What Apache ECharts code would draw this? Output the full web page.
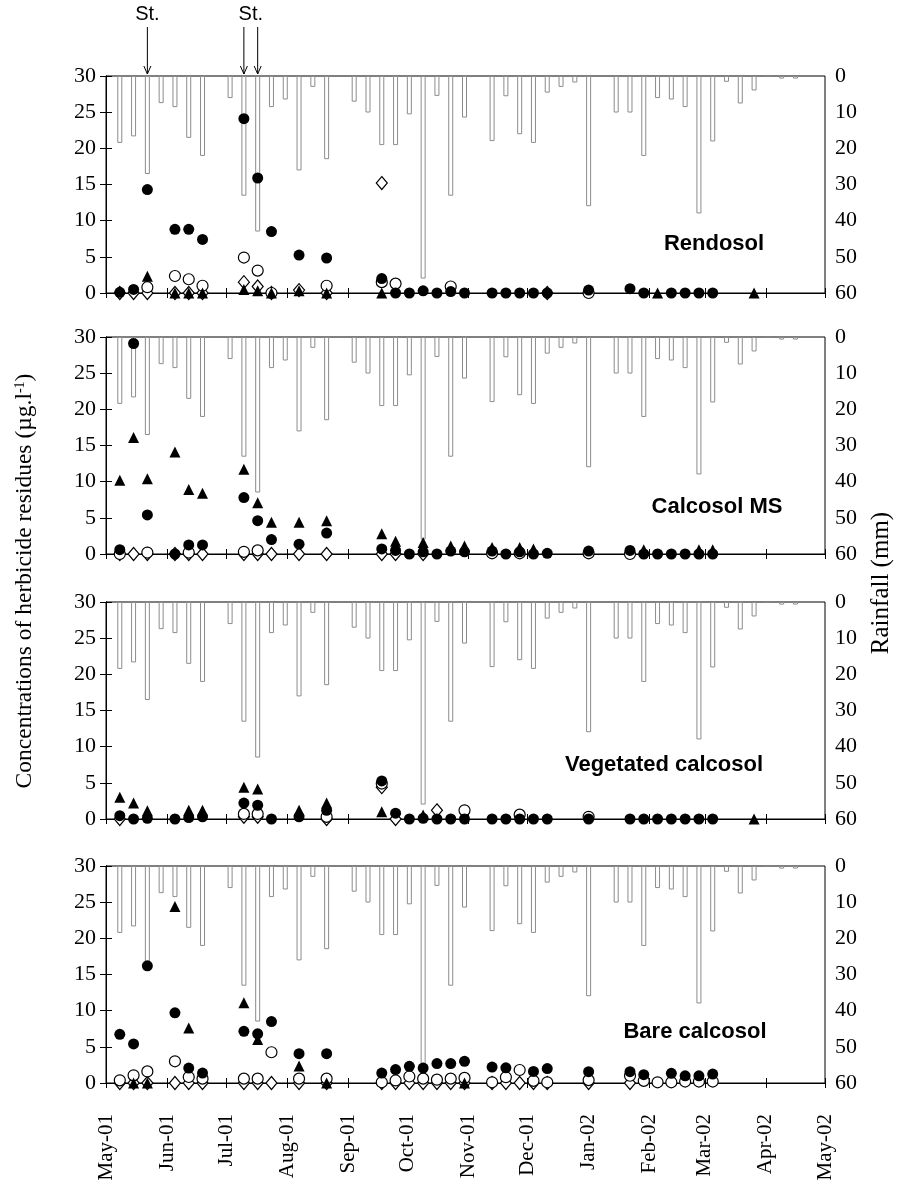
<!DOCTYPE html>
<html><head><meta charset="utf-8">
<script src="https://cdn.jsdelivr.net/npm/echarts@6/dist/echarts.min.js"></script>
<style>html,body{margin:0;padding:0;background:#fff}#c{width:905px;height:1184px}</style>
</head><body><div id="c"></div>
<script>
// ---------- DATA ----------
const monthTicks = ['2001-05-01','2001-06-01','2001-07-01','2001-08-01','2001-09-01','2001-10-01','2001-11-01','2001-12-01','2002-01-01','2002-02-01','2002-03-01','2002-04-01','2002-05-01'];
const monthLabels = ['May-01','Jun-01','Jul-01','Aug-01','Sep-01','Oct-01','Nov-01','Dec-01','Jan-02','Feb-02','Mar-02','Apr-02','May-02'];

// weekly rainfall (mm)
const rainDates = ['2001-05-08','2001-05-15','2001-05-22','2001-05-29','2001-06-05','2001-06-12','2001-06-19','2001-06-26','2001-07-03','2001-07-10','2001-07-17','2001-07-24','2001-07-31','2001-08-07','2001-08-14','2001-08-21','2001-08-28','2001-09-04','2001-09-11','2001-09-18','2001-09-25','2001-10-02','2001-10-09','2001-10-16','2001-10-23','2001-10-30','2001-11-06','2001-11-13','2001-11-20','2001-11-27','2001-12-04','2001-12-11','2001-12-18','2001-12-25','2002-01-01','2002-01-08','2002-01-15','2002-01-22','2002-01-29','2002-02-05','2002-02-12','2002-02-19','2002-02-26','2002-03-05','2002-03-12','2002-03-19','2002-03-26','2002-04-02','2002-04-09','2002-04-16'];
const rainfall = [18.5,16.7,27.1,7.5,8.6,17.1,22.1,null,6.1,33.1,43.0,8.6,6.5,26.1,3.0,23.0,null,7.1,10.1,19.1,19.1,10.6,56.0,5.5,33.1,11.5,null,18.0,5.6,16.1,18.5,4.6,3.0,1.8,36.0,null,10.1,10.1,22.1,6.1,6.5,8.6,38.0,18.1,1.6,7.6,4.0,0.3,0.7,0.7];

// sampling dates
const sampleDates = ['2001-05-08','2001-05-15','2001-05-22','2001-06-05','2001-06-12','2001-06-19','2001-07-10','2001-07-17','2001-07-24','2001-08-07','2001-08-21','2001-09-18','2001-09-25','2001-10-02','2001-10-09','2001-10-16','2001-10-23','2001-10-30','2001-11-13','2001-11-20','2001-11-27','2001-12-04','2001-12-11','2002-01-01','2002-01-22','2002-01-29','2002-02-05','2002-02-12','2002-02-19','2002-02-26','2002-03-05','2002-03-26'];

// Rendosol
const rendosolFilled   = [0.1,0.5,14.3,8.8,8.8,7.4,24.1,15.9,8.5,5.25,4.84,2.0,0,0,0.3,0,0.2,0,0,0,0,0,0,0.4,0.6,0,null,0,0,0,0,null];
const rendosolOpen     = [null,null,0.8,2.35,1.9,1.0,4.9,3.1,0,null,1.0,1.5,1.3,null,null,null,0.9,null,null,null,null,null,null,0,null,null,null,null,null,null,null,null];
const rendosolDiamond  = [0,0,0,0,0,0,1.5,0.9,0,0.4,0,15.2,null,null,null,null,null,null,null,null,null,null,0,null,null,null,null,null,null,null,null,null];
const rendosolTriangle = [null,null,2.3,0,0,0,0.5,0.3,0,0.3,0,0,null,null,null,null,null,null,null,null,null,null,null,null,null,null,0,null,null,null,null,0];
// Calcosol MS
const calcosolFilled   = [0.6,29.1,5.4,0,1.25,1.25,7.8,4.6,2.0,1.35,2.9,0.7,0.5,0,0.3,0,0.4,0.3,0.4,0,0.3,0,0.1,0.4,0.5,0,0,0,0,0,0,null];
const calcosolOpen     = [0,null,0.2,null,0.2,null,0.3,0.5,null,null,null,null,null,null,null,null,null,null,0.1,null,0.1,null,null,0.1,0,null,null,null,null,null,null,null];
const calcosolDiamond  = [0,0,0,0,0,0,0,0,0,0,0,0,0,null,0,null,null,null,null,null,null,null,null,null,null,null,null,null,null,null,null,null];
const calcosolTriangle = [10.2,16.1,10.4,14.1,8.9,8.4,11.7,7.1,4.4,4.4,4.6,2.8,1.75,null,1.6,null,1.1,1.1,0.9,null,0.9,0.7,null,null,null,0.6,null,null,null,0.6,0.6,null];
// Vegetated calcosol
const vegetatedFilled   = [0.46,0,0.1,0,0.2,0.3,2.2,1.9,0,0.3,1.2,5.26,0.8,0,0.1,0,0,0,0,0,0,0,0,0,0,0,0,0,0,0,0,null];
const vegetatedOpen     = [null,null,null,null,null,null,0.7,0.7,null,null,0.3,4.9,null,null,null,null,null,1.2,null,null,0.6,null,null,0.3,null,null,null,null,null,null,null,null];
const vegetatedDiamond  = [0,null,null,null,null,null,0.3,0.3,null,null,0,4.4,0,null,null,1.2,null,null,null,null,null,null,null,null,null,null,null,null,null,null,null,null];
const vegetatedTriangle = [3.0,2.2,1.15,null,1.2,1.2,4.4,4.15,null,1.2,2.2,1.0,null,null,0.55,null,null,null,null,null,null,null,null,null,null,null,null,null,null,null,null,0];
// Bare calcosol
const bareFilled   = [6.73,5.4,16.2,9.7,2.07,1.38,7.15,6.8,8.5,4.06,4.06,1.38,1.85,2.3,2.07,2.68,2.68,3.0,2.2,2.1,null,1.6,2.0,1.56,1.56,1.15,null,1.34,1.0,1.0,1.24,null];
const bareOpen     = [0.37,1.06,1.6,3.0,0.83,0.6,0.6,0.6,4.25,0.6,0.6,0.1,0.35,0.9,0.6,0.46,0.6,0.7,0.1,0.8,1.8,0.3,0.1,0.4,1.0,0.3,0.1,0.1,0.2,0.2,0.2,null];
const bareDiamond  = [0,0,0,0,0,0,0,0,0,0,0,0,0,0,0,0,0,0,0,0,0,0,0,0,0,null,null,null,null,null,null,null];
const bareTriangle = [null,0,0,24.4,7.6,null,11.1,6.0,null,2.35,0,null,null,null,null,null,null,0,null,null,null,null,null,null,null,null,null,null,null,null,null,null];

const panelNames = ['Rendosol','Calcosol MS','Vegetated calcosol','Bare calcosol'];
const treatmentDates = [['2001-05-22'], ['2001-07-10','2001-07-17']];
const treatmentLabel = 'St.';
const leftTitle = 'Concentrations of herbicide residues (µg.l{sup|-1})';
const rightTitle = 'Rainfall (mm)';

// ---------- BUILD ----------
const origin = Date.UTC(2001,4,1);
function dayNum(s){ const p = s.split('-').map(Number); return (Date.UTC(p[0],p[1]-1,p[2]) - origin)/86400000; }
const monthDays = monthTicks.map(dayNum);
const xMax = dayNum('2002-05-01');

const panels = [
  {filled: rendosolFilled, open: rendosolOpen, diamond: rendosolDiamond, tri: rendosolTriangle},
  {filled: calcosolFilled, open: calcosolOpen, diamond: calcosolDiamond, tri: calcosolTriangle},
  {filled: vegetatedFilled, open: vegetatedOpen, diamond: vegetatedDiamond, tri: vegetatedTriangle},
  {filled: bareFilled, open: bareOpen, diamond: bareDiamond, tri: bareTriangle}
];

const gridTops = [76, 337, 602, 866];
const gridH = 217;
const serif = 'Liberation Serif, Times New Roman, serif';
const sans = 'Liberation Sans, Arial, sans-serif';
const labelCenters = [[714,244],[717,507],[664,765],[695,1032]];

const grids = [], xAxes = [], yAxes = [], series = [];
function pts(vals){ const out=[]; vals.forEach((v,j)=>{ if(v!==null && v!==undefined) out.push([dayNum(sampleDates[j]), v]); }); return out; }

gridTops.forEach((t,i)=>{
  grids.push({left:106, right:80, top:t, height:gridH, show:true, borderColor:'#000', borderWidth:1, backgroundColor:'transparent'});
  xAxes.push({
    type:'value', gridIndex:i, min:0, max:xMax, position:'bottom',
    axisLine:{show:true, onZero:false, lineStyle:{color:'#000', width:1}},
    axisTick:{show:true, customValues:monthDays, length:5, inside:false, lineStyle:{color:'#000'}},
    axisLabel:{show:i===3, customValues:monthDays, rotate:90, margin:31, fontFamily:serif, fontSize:21, color:'#000',
      formatter:(v)=>{ const k = monthDays.indexOf(v); return k>=0 ? monthLabels[k] : ''; }},
    splitLine:{show:false}
  });
});
gridTops.forEach((t,i)=>{
  xAxes.push({
    type:'value', gridIndex:i, min:0, max:xMax, position:'bottom',
    axisLine:{show:false, onZero:false},
    axisTick:{show:true, customValues:monthDays, length:5, inside:true, lineStyle:{color:'#000'}},
    axisLabel:{show:false}, splitLine:{show:false}
  });
});
gridTops.forEach((t,i)=>{
  yAxes.push({type:'value', gridIndex:i, min:0, max:30, interval:5, position:'left',
    axisLine:{show:true, lineStyle:{color:'#000'}}, axisTick:{show:true, length:6, lineStyle:{color:'#000'}},
    axisLabel:{fontFamily:serif, fontSize:22, color:'#000', margin:10}, splitLine:{show:false}});
  yAxes.push({type:'value', gridIndex:i, min:0, max:60, interval:10, position:'right', inverse:true,
    axisLine:{show:true, lineStyle:{color:'#000'}}, axisTick:{show:true, length:6, lineStyle:{color:'#000'}},
    axisLabel:{fontFamily:serif, fontSize:22, color:'#000', margin:10}, splitLine:{show:false}});
});

panels.forEach((p,i)=>{
  series.push({type:'bar', xAxisIndex:i, yAxisIndex:2*i+1, barWidth:5, silent:true, z:1,
    data: rainDates.map((d,j)=> rainfall[j]===null ? null : [dayNum(d), rainfall[j]]),
    itemStyle:{color:'#fff', borderColor:'#8c8c8c', borderWidth:1}});
  const openStyle = {color:'#fff', borderColor:'#000', borderWidth:1.2, opacity:1};
  series.push({type:'scatter', xAxisIndex:i, yAxisIndex:2*i, symbol:'diamond', symbolSize:[11,13], z:3, silent:true, data:pts(p.diamond), itemStyle:openStyle});
  series.push({type:'scatter', xAxisIndex:i, yAxisIndex:2*i, symbol:'circle', symbolSize:11, z:4, silent:true, data:pts(p.open), itemStyle:openStyle});
  series.push({type:'scatter', xAxisIndex:i, yAxisIndex:2*i, symbol:'circle', symbolSize:11, z:5, silent:true, data:pts(p.filled), itemStyle:{color:'#000', opacity:1}});
  series.push({type:'scatter', xAxisIndex:i, yAxisIndex:2*i, symbol:'triangle', symbolSize:11, z:6, silent:true, data:pts(p.tri), itemStyle:{color:'#000', opacity:1}});
});

const graphicBase = [];
panelNames.forEach((n,i)=>{
  graphicBase.push({type:'text', id:'pl'+i, x:labelCenters[i][0], y:labelCenters[i][1], z:10,
    style:{text:n, font:'bold 22px '+sans, fill:'#000', textAlign:'center', textVerticalAlign:'middle'}});
});
graphicBase.push({type:'text', id:'lt', x:25, y:581, rotation:Math.PI/2, z:10,
  style:{text:leftTitle, fontFamily:serif, fontSize:23.5, fill:'#000', textAlign:'center', textVerticalAlign:'middle',
    rich:{sup:{fontFamily:serif, fontSize:14, verticalAlign:'top', padding:[0,0,8,0]}}}});
graphicBase.push({type:'text', id:'rt', x:881, y:583, rotation:Math.PI/2, z:10,
  style:{text:rightTitle, fontFamily:serif, fontSize:25, fill:'#000', textAlign:'center', textVerticalAlign:'middle'}});

const chart = echarts.init(document.getElementById('c'), null, {renderer:'canvas'});
chart.setOption({animation:false, backgroundColor:'#fff', grid:grids, xAxis:xAxes, yAxis:yAxes, series:series, graphic:graphicBase});

// treatment arrows ("St.") above the first panel, positioned from data through the axis
const extra = [];
treatmentDates.forEach((group,g)=>{
  const xs = group.map(d=> chart.convertToPixel({xAxisIndex:0}, dayNum(d)));
  const cx = xs.reduce((a,b)=>a+b,0)/xs.length;
  extra.push({type:'text', id:'st'+g, x:cx, y:14, z:10, style:{text:treatmentLabel, font:'20px '+sans, fill:'#000', textAlign:'center', textVerticalAlign:'middle'}});
  xs.forEach((x,j)=>{
    extra.push({type:'line', id:'al'+g+'_'+j, z:10, shape:{x1:x, y1:27, x2:x, y2:74}, style:{stroke:'#000', lineWidth:1}});
    extra.push({type:'polyline', id:'ah'+g+'_'+j, z:10, shape:{points:[[x-3.5,66],[x,74],[x+3.5,66]]}, style:{stroke:'#000', fill:null, lineWidth:1}});
  });
});
chart.setOption({graphic: graphicBase.concat(extra)});
</script></body></html>
